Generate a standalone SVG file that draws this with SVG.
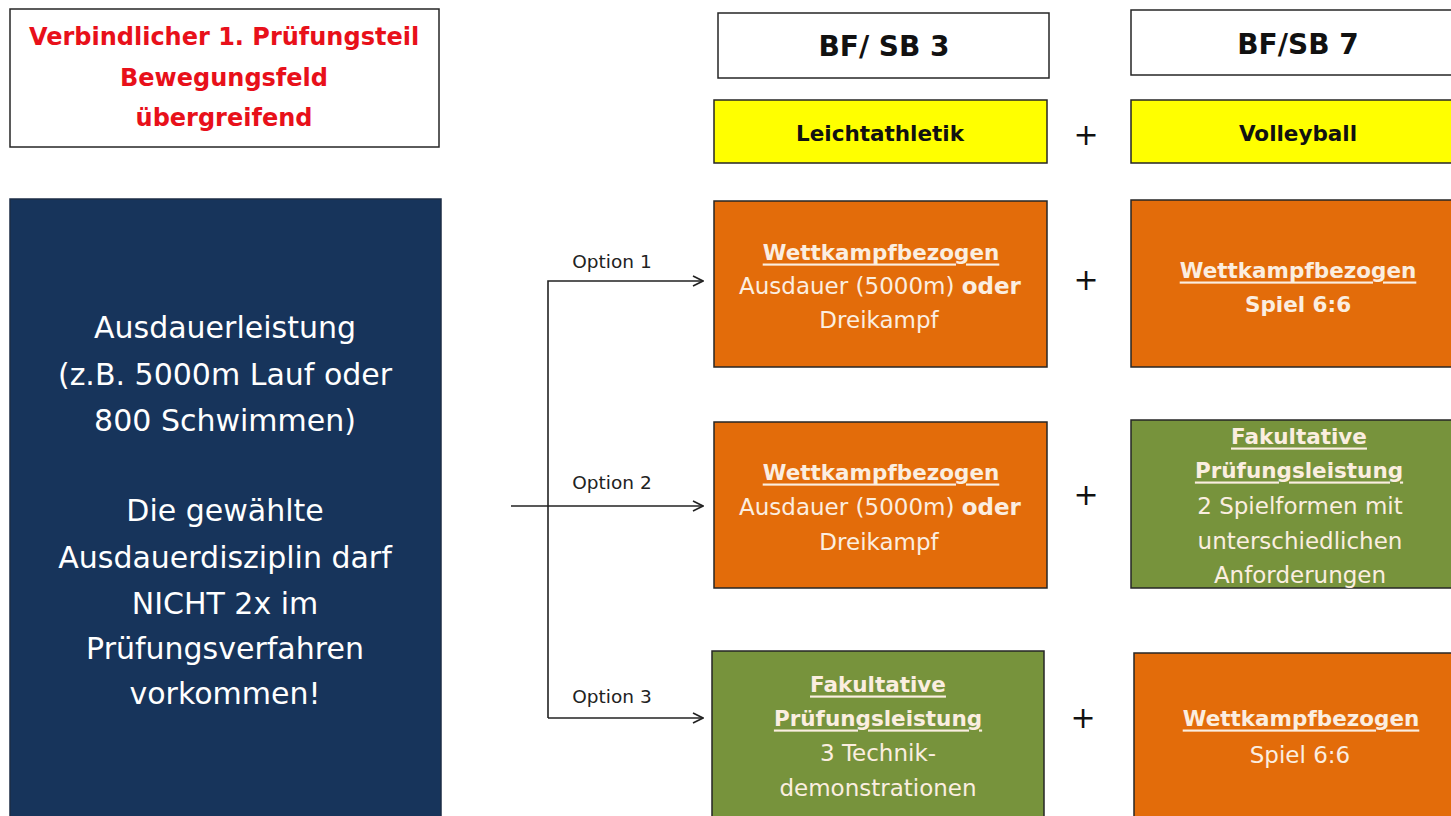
<svg xmlns="http://www.w3.org/2000/svg" width="1451" height="816" viewBox="0 0 1451 816">
<defs>
<style>
text{font-family:"DejaVu Sans","Open Sans",sans-serif;text-anchor:middle;dominant-baseline:central}
.box{stroke:#262626;stroke-width:1.5}
.red{fill:#e8101a;font-weight:bold;font-size:24px}
.blue{fill:#ffffff;font-size:30px}
.hdr{fill:#111;font-weight:bold;font-size:28px}
.yl{fill:#111;font-weight:bold;font-size:21.5px}
.w{fill:#fbeee0;font-size:23px}
.h{font-weight:bold;font-size:21.5px;text-decoration:underline}
.b{font-weight:bold}
.plus{fill:#111;font-size:30px}
.opt{fill:#222;font-size:18.5px}
.ln{stroke:#222;stroke-width:1.6;fill:none}
</style>
<marker id="arr" viewBox="0 0 12 12" refX="11" refY="6" markerWidth="12" markerHeight="12" markerUnits="userSpaceOnUse" orient="auto">
<path d="M1,1 L11,6 L1,11" fill="none" stroke="#222" stroke-width="1.6"/>
</marker>
</defs>
<rect width="1451" height="816" fill="#ffffff"/>

<g id="title">
<rect class="box" x="10" y="9" width="429" height="138" fill="#ffffff"/>
<text class="red" x="224" y="37">Verbindlicher 1. Prüfungsteil</text>
<text class="red" x="224" y="78">Bewegungsfeld</text>
<text class="red" x="224" y="118">übergreifend</text>
</g>

<g id="ausdauer">
<rect x="10" y="199" width="431" height="630" fill="#17345b" stroke="#1d2d45" stroke-width="1.5"/>
<text class="blue" x="225" y="327">Ausdauerleistung</text>
<text class="blue" x="225" y="374">(z.B. 5000m Lauf oder</text>
<text class="blue" x="225" y="420">800 Schwimmen)</text>
<text class="blue" x="225" y="510">Die gewählte</text>
<text class="blue" x="225" y="557">Ausdauerdisziplin darf</text>
<text class="blue" x="225" y="603">NICHT 2x im</text>
<text class="blue" x="225" y="648">Prüfungsverfahren</text>
<text class="blue" x="225" y="693">vorkommen!</text>
</g>

<g id="bfsb3">
<rect class="box" x="718" y="13" width="331" height="65" fill="#ffffff"/>
<text class="hdr" x="884" y="46">BF/ SB 3</text>
</g>
<g id="bfsb7">
<rect class="box" x="1131" y="10" width="330" height="65" fill="#ffffff"/>
<text class="hdr" x="1298" y="44">BF/SB 7</text>
</g>

<g id="leichtathletik">
<rect class="box" x="714" y="100" width="333" height="63" fill="#ffff00"/>
<text class="yl" x="880" y="133">Leichtathletik</text>
</g>
<g id="volleyball">
<rect class="box" x="1131" y="100" width="330" height="63" fill="#ffff00"/>
<text class="yl" x="1298" y="133">Volleyball</text>
</g>

<g id="plus-signs">
<text class="plus" x="1086" y="134">+</text>
<text class="plus" x="1086" y="279">+</text>
<text class="plus" x="1086" y="494">+</text>
<text class="plus" x="1083" y="717">+</text>
</g>

<g id="opt1-left">
<rect class="box" x="714" y="201" width="333" height="166" fill="#e36c0a"/>
<text class="w h" x="881" y="252">Wettkampfbezogen</text>
<text class="w" x="880" y="286">Ausdauer (5000m) <tspan class="b">oder</tspan></text>
<text class="w" x="879" y="320">Dreikampf</text>
</g>
<g id="opt1-right">
<rect class="box" x="1131" y="200" width="330" height="167" fill="#e36c0a"/>
<text class="w h" x="1298" y="270">Wettkampfbezogen</text>
<text class="w b" x="1298" y="304" style="font-size:21.5px">Spiel 6:6</text>
</g>

<g id="opt2-left">
<rect class="box" x="714" y="422" width="333" height="166" fill="#e36c0a"/>
<text class="w h" x="881" y="472">Wettkampfbezogen</text>
<text class="w" x="880" y="507">Ausdauer (5000m) <tspan class="b">oder</tspan></text>
<text class="w" x="879" y="542">Dreikampf</text>
</g>
<g id="opt2-right">
<rect class="box" x="1131" y="420" width="330" height="168" fill="#77933c"/>
<text class="w h" x="1299" y="436">Fakultative</text>
<text class="w h" x="1299" y="470">Prüfungsleistung</text>
<text class="w" x="1300" y="506">2 Spielformen mit</text>
<text class="w" x="1300" y="541">unterschiedlichen</text>
<text class="w" x="1300" y="575">Anforderungen</text>
</g>

<g id="opt3-left">
<rect class="box" x="712" y="651" width="332" height="180" fill="#77933c"/>
<text class="w h" x="878" y="684">Fakultative</text>
<text class="w h" x="878" y="718">Prüfungsleistung</text>
<text class="w" x="878" y="753">3 Technik-</text>
<text class="w" x="878" y="788">demonstrationen</text>
</g>
<g id="opt3-right">
<rect class="box" x="1134" y="653" width="327" height="180" fill="#e36c0a"/>
<text class="w h" x="1301" y="718">Wettkampfbezogen</text>
<text class="w" x="1300" y="755">Spiel 6:6</text>
</g>

<g id="connectors">
<path class="ln" d="M548,718 L548,281 L703,281" marker-end="url(#arr)"/>
<path class="ln" d="M511,506 L703,506" marker-end="url(#arr)"/>
<path class="ln" d="M548,718 L703,718" marker-end="url(#arr)"/>
<text class="opt" x="612" y="261">Option 1</text>
<text class="opt" x="612" y="482">Option 2</text>
<text class="opt" x="612" y="696">Option 3</text>
</g>
</svg>
